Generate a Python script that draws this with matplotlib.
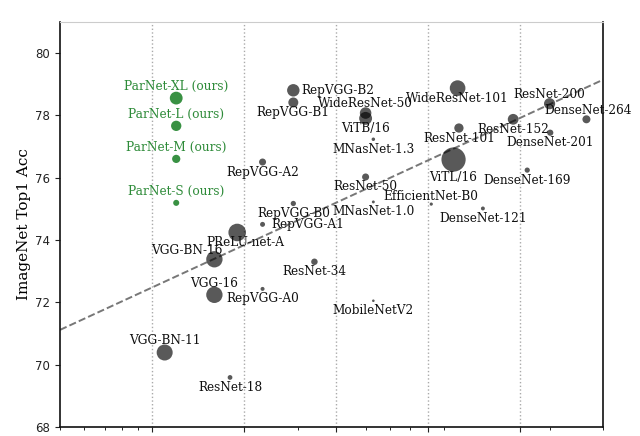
import numpy as np
import matplotlib
matplotlib.use("Agg")
import matplotlib.pyplot as plt
from matplotlib.ticker import FixedLocator, NullFormatter, LogLocator

# ---- data ----
models = ["ResNet-18", "ResNet-34", "ResNet-50", "ResNet-101", "ResNet-152", "ResNet-200",
          "DenseNet-121", "DenseNet-169", "DenseNet-201", "DenseNet-264",
          "VGG-BN-11", "VGG-BN-16", "VGG-16", "PReLU-net-A",
          "WideResNet-50", "WideResNet-101", "ViTB/16", "ViTL/16",
          "RepVGG-A0", "RepVGG-A1", "RepVGG-A2", "RepVGG-B0", "RepVGG-B1", "RepVGG-B2",
          "MobileNetV2", "MNasNet-1.0", "MNasNet-1.3", "EfficientNet-B0"]
depth = [18, 34, 50, 101, 152, 200,
         121, 169, 201, 264,
         11, 16, 16, 19,
         50, 100, 50, 97,
         23, 23, 23, 29, 29, 29,
         53, 53, 53, 82]
top1 = [69.59, 73.30, 76.02, 77.59, 77.87, 78.37,
        75.01, 76.24, 77.44, 77.87,
        70.39, 73.38, 72.24, 74.24,
        78.07, 78.87, 77.90, 76.58,
        72.43, 74.50, 76.50, 75.17, 78.41, 78.80,
        72.05, 75.22, 77.23, 75.15]
params_m = [11.7, 21.8, 25.6, 44.5, 60.2, 64.7,
            8.0, 14.1, 20.0, 33.3,
            132.9, 138.4, 138.4, 160.0,
            68.9, 126.9, 86.0, 304.0,
            8.3, 12.8, 25.5, 14.3, 51.8, 80.3,
            3.5, 4.4, 6.3, 5.3]

parnet_models = ["ParNet-XL (ours)", "ParNet-L (ours)", "ParNet-M (ours)", "ParNet-S (ours)"]
parnet_depth = [12, 12, 12, 12]
parnet_top1 = [78.55, 77.66, 76.60, 75.19]
parnet_params_m = [85.0, 55.0, 35.0, 19.0]

trend_coef = [4.515, 67.96]   # acc = a*log10(depth) + b
x_ticks = [10, 20, 40, 80, 160]
y_ticks = [68, 70, 72, 74, 76, 78, 80]

# ---- label placement (pixel offsets, alignment) ----
default_off = (0, -10)
label_off = {
    "ResNet-200": (0, 9), "DenseNet-264": (2, 8.5), "EfficientNet-B0": (0, 8),
    "WideResNet-50": (0, 10), "VGG-16": (0, 11.5), "VGG-BN-11": (0, 12),
    "ViTL/16": (0, -18), "PReLU-net-A": (8, -10), "VGG-BN-16": (-28, 9),
    "RepVGG-B2": (8.5, 0), "RepVGG-A1": (8.5, 0),
}
left_aligned = {"RepVGG-B2", "RepVGG-A1"}

plt.rcParams["font.family"] = ["DejaVu Sans"]
fig = plt.figure(figsize=(6.4, 4.36), dpi=100)
ax = fig.add_axes([0.0938, 0.0206, 0.8490, 0.9296])

ax.set_xscale("log")
ax.set_xlim(5, 300)
ax.set_ylim(68, 81)

gray = "black"
green = "#2e8b39"
label_size = 8.7

ax.scatter(depth, top1, s=np.array(params_m) * 1.0, color=gray, alpha=0.65,
           edgecolors="none", zorder=3)
ax.scatter(parnet_depth, parnet_top1, s=np.array(parnet_params_m) * 1.0, color=green,
           alpha=0.95, edgecolors="none", zorder=3)

xs = np.logspace(np.log10(5), np.log10(300), 50)
ax.plot(xs, np.polyval(trend_coef, np.log10(xs)), ls="--", color="#777777", lw=1.4, zorder=2)

for name, x, y in zip(models, depth, top1):
    dx, dy = label_off.get(name, default_off)
    ha = "left" if name in left_aligned else "center"
    ax.annotate(name, (x, y), xytext=(dx, dy), textcoords="offset pixels",
                ha=ha, va="center", fontsize=label_size, family="DejaVu Serif",
                color="#111111", zorder=4)
for name, x, y in zip(parnet_models, parnet_depth, parnet_top1):
    ax.annotate(name, (x, y), xytext=(0, 11.5), textcoords="offset pixels",
                ha="center", va="center", fontsize=label_size, family="DejaVu Serif",
                color=green, zorder=4)

ax.xaxis.set_major_locator(FixedLocator(x_ticks))
ax.xaxis.set_minor_locator(LogLocator(base=10, subs=np.arange(2, 10)))
ax.xaxis.set_minor_formatter(NullFormatter())
ax.tick_params(axis="x", which="both", labelbottom=False)
ax.set_yticks(y_ticks)
ax.tick_params(axis="both", which="major", labelsize=8.5, colors="#222222")
ax.grid(axis="x", which="major", ls=":", color="#aaaaaa", lw=1.0)

ax.spines["top"].set_color("#cccccc")
for s in ["left", "bottom", "right"]:
    ax.spines[s].set_color("#111111")
    ax.spines[s].set_linewidth(1.2)

ax.set_ylabel("ImageNet Top1 Acc", family="DejaVu Serif", fontsize=11, labelpad=3)

fig.savefig("out.png", dpi=100)
